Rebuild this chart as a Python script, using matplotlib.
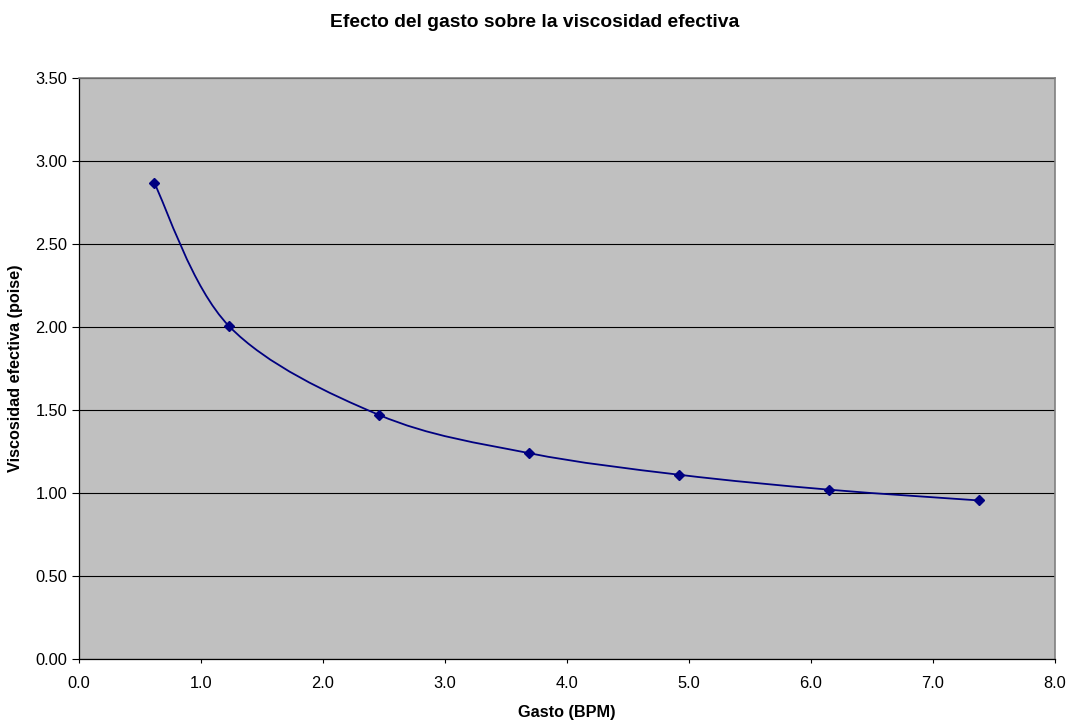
import numpy as np
import matplotlib.pyplot as plt
from matplotlib.path import Path
from matplotlib.patches import PathPatch

plt.rcParams['font.family'] = ['Liberation Sans', 'DejaVu Sans']

# gasto (BPM) y viscosidad efectiva (poise)
gasto = [0.615, 1.23, 2.46, 3.69, 4.92, 6.15, 7.38]
viscosidad = [2.87, 2.005, 1.47, 1.24, 1.11, 1.02, 0.955]

x_ticks = np.arange(0, 8.01, 1.0)
y_ticks = np.arange(0, 3.51, 0.5)

fig = plt.figure(figsize=(10.69, 7.2), dpi=100)
ax = fig.add_axes([0.0739, 0.0847, 0.9130, 0.8070])
ax.set_facecolor('#c0c0c0')

# linea suavizada tipo Excel (Bezier Catmull-Rom)
pts = np.column_stack([gasto, viscosidad])
ext = np.vstack([pts[0], pts, pts[-1]])
verts = [tuple(pts[0])]
codes = [Path.MOVETO]
for i in range(1, len(ext) - 2):
    p0, p1, p2, p3 = ext[i - 1], ext[i], ext[i + 1], ext[i + 2]
    c1 = p1 + (p2 - p0) / 6
    c2 = p2 - (p3 - p1) / 6
    verts += [tuple(c1), tuple(c2), tuple(p2)]
    codes += [Path.CURVE4] * 3
ax.add_patch(PathPatch(Path(verts, codes), facecolor='none', edgecolor='#000080', lw=1.3, zorder=3))
ax.plot(gasto, viscosidad, ls='none', marker='D', ms=5.5, color='#000080', zorder=4)

ax.set_xlim(0, 8)
ax.set_ylim(0, 3.5)
ax.set_xticks(x_ticks)
ax.set_xticklabels([f"{v:.1f}" for v in x_ticks])
ax.set_yticks(y_ticks)
ax.set_yticklabels([f"{v:.2f}" for v in y_ticks])
ax.yaxis.grid(True, color='black', lw=0.8)
ax.set_axisbelow(True)
ax.tick_params(direction='out', width=0.8, labelsize=11.8, colors='black')
ax.tick_params(axis='y', length=5)
ax.tick_params(axis='x', length=3, pad=9)

for s in ['top', 'right']:
    ax.spines[s].set_color('#808080')
    ax.spines[s].set_linewidth(1.2)
for s in ['left', 'bottom']:
    ax.spines[s].set_color('black')
    ax.spines[s].set_linewidth(0.9)

ax.set_xlabel("Gasto (BPM)", fontsize=11.7, fontweight='bold', labelpad=10)
ax.set_ylabel("Viscosidad efectiva (poise)", fontsize=11.7, fontweight='bold', labelpad=9)
fig.suptitle("Efecto del gasto sobre la viscosidad efectiva", fontsize=13.9, fontweight='bold', y=0.981)

fig.savefig("out.png", dpi=100)
